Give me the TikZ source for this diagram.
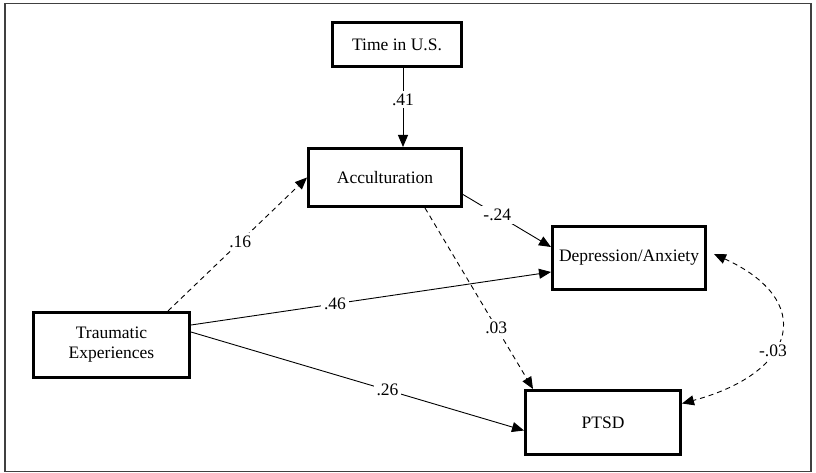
\documentclass[tikz,border=0pt]{standalone}
\usepackage{fontspec}
\setmainfont{Liberation Serif}
\usepackage{tikz}
\usetikzlibrary{arrows.meta}

\begin{document}
\begin{tikzpicture}[x=1pt,y=-1pt,
    box/.style={draw,line width=3pt,minimum width=#1,align=center,inner sep=0pt},
    arr/.style={-{Triangle[length=12pt,width=10pt]},line width=0.9pt},
    indirect/.style={arr,dash pattern=on 5pt off 4pt},
    coef/.style={fill=white,inner sep=3pt}]
  \useasboundingbox (0,0) rectangle (816,473);
  \draw [line width=1.3pt,black!75] (5,3.5) rectangle (811,471.5);
  \begin{scope}[font=\fontsize{17.5}{20}\selectfont]
      \node [box=129pt,minimum height=44pt] (U) at (397,44.5) {Time in U.S.};
      \node [box=153pt,minimum height=58pt] (A) at (385,177.5) {Acculturation};
      \node [box=153pt,minimum height=63pt] (D) at (629,258) {Depression/Anxiety};
      \node [box=155pt,minimum height=64pt] (P) at (603,422.5) {PTSD};
      \node [box=156pt,minimum height=65pt] (T) at (111.5,345) {Traumatic\\Experiences};
      \draw [arr] ([xshift=6pt]U.south) to node [coef,pos=0.4] {.41} ([xshift=18pt]A.north);
      \draw [indirect] ([xshift=56.5pt]T.north) to node [coef,pos=0.52] {.16} (A.west);
      \draw [arr] ([yshift=20pt]T.east) to node [coef,pos=0.4] {.46} ([yshift=-14pt]D.west);
      \draw [arr] ([yshift=13pt]T.east) to node [coef,pos=0.59] {.26} ([yshift=-8pt]P.west);
      \draw [arr] ([yshift=-17pt]A.east) to node [coef,pos=0.39] {-.24} ([yshift=11pt]D.west);
      \draw [indirect] ([xshift=40pt]A.south) to node [coef,pos=0.66] {.03} ([xshift=-70pt]P.north);
      \draw [indirect,{Triangle[length=12pt,width=10pt]}-{Triangle[length=12pt,width=10pt]}] ([xshift=7pt,yshift=4pt]D.east) .. controls (815,300) and (799,372) .. node [coef,pos=0.6] {-.03} ([yshift=19pt]P.east);
  \end{scope}
\end{tikzpicture}
\end{document}
